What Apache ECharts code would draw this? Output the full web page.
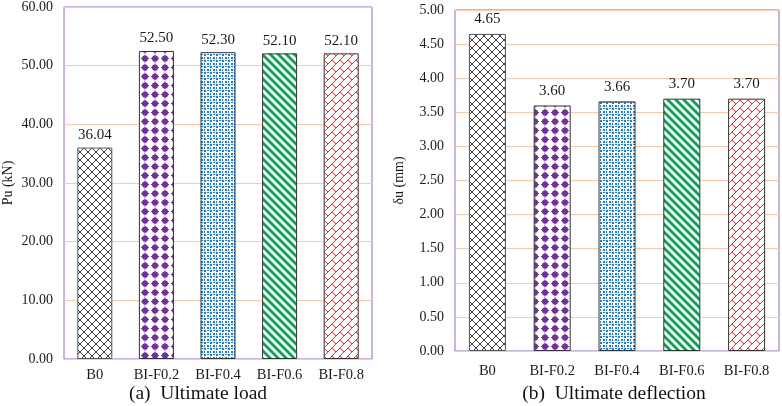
<!DOCTYPE html>
<html>
<head>
<meta charset="utf-8">
<script src="https://cdn.jsdelivr.net/npm/echarts@6/dist/echarts.min.js"></script>
<style>
html,body{margin:0;padding:0;background:#fff;}
#c{width:782px;height:406px;}
</style>
</head>
<body>
<div id="c"></div>
<script>
const categories = ['B0', 'BI-F0.2', 'BI-F0.4', 'BI-F0.6', 'BI-F0.8'];
const loadValues = [36.04, 52.50, 52.30, 52.10, 52.10];
const deflectionValues = [4.65, 3.60, 3.66, 3.70, 3.70];
const loadAxis = { min: 0, max: 60, interval: 10, name: 'Pu (kN)' };
const deflAxis = { min: 0, max: 5, interval: 0.5, name: 'δu (mm)' };
const captions = ['(a)  Ultimate load', '(b)  Ultimate deflection'];

const FONT = '"Liberation Serif", "Times New Roman", serif';

function makeTile(w, h, draw) {
  const c = document.createElement('canvas');
  c.width = w; c.height = h;
  const g = c.getContext('2d');
  g.fillStyle = '#ffffff';
  g.fillRect(0, 0, w, h);
  draw(g, w, h);
  return { image: c, repeat: 'repeat' };
}

// crosshatch (B0)
const patCross = makeTile(8, 8, (g) => {
  g.strokeStyle = '#3a3a3a'; g.lineWidth = 1;
  g.beginPath();
  g.moveTo(0, 0); g.lineTo(8, 8);
  g.moveTo(8, 0); g.lineTo(0, 8);
  g.stroke();
});
// purple dots
const patDots = makeTile(10, 9, (g) => {
  g.fillStyle = '#7030A0';
  g.beginPath(); g.arc(5, 4.5, 3.1, 0, Math.PI * 2); g.fill();
  g.fillRect(4.5, 0.5, 1, 8);
  g.fillRect(1, 4, 8, 1);
});
// blue small dots
const patSmall = makeTile(6, 6, (g) => {
  g.fillStyle = '#1F7FD0';
  g.fillRect(0, 0, 2, 2);
  g.fillRect(3, 3, 2, 2);
  g.fillRect(3, 0, 2, 1);
  g.fillRect(0, 3, 1, 2);
});
// green diagonal stripes "\"
const patStripe = makeTile(8, 8, (g) => {
  g.strokeStyle = '#00A550'; g.lineWidth = 2.8;
  g.beginPath();
  g.moveTo(-8, 0); g.lineTo(8, 16);
  g.moveTo(0, 0); g.lineTo(8, 8);
  g.moveTo(0, -8); g.lineTo(16, 8);
  g.stroke();
});
// red diagonal brick
const patBrick = makeTile(8, 8, (g) => {
  g.strokeStyle = '#FF3030'; g.lineWidth = 1;
  g.beginPath();
  g.moveTo(0, 8); g.lineTo(8, 0);
  g.moveTo(-1, 9); g.lineTo(9, -1);
  g.moveTo(4, 4); g.lineTo(8, 8);
  g.stroke();
});
const patterns = [patCross, patDots, patSmall, patStripe, patBrick];
const borders = ['#555555', '#333333', '#333333', '#333333', '#333333'];

function barData(vals) {
  return vals.map((v, i) => ({
    value: v,
    itemStyle: { color: patterns[i], borderColor: borders[i], borderWidth: 1 }
  }));
}

const gridLine = { show: true, lineStyle: { color: '#F8CBAD', width: 1 } };

const chart = echarts.init(document.getElementById('c'), null, { renderer: 'canvas' });
chart.setOption({
  animation: false,
  grid: [
    { left: 58, top: 4, width: 314, height: 355, show: true, borderColor: '#9966CC', borderWidth: 1, backgroundColor: 'transparent' },
    { left: 455, top: 10, width: 324, height: 341, show: true, borderColor: '#9966CC', borderWidth: 1, backgroundColor: 'transparent' }
  ],
  xAxis: [0, 1].map(i => ({
    type: 'category', gridIndex: i, data: categories,
    axisLine: { show: false }, axisTick: { show: false },
    axisLabel: { fontFamily: FONT, fontSize: 14.5, color: '#1a1a1a', margin: i === 0 ? 9 : 13 }
  })),
  yAxis: [loadAxis, deflAxis].map((a, i) => ({
    type: 'value', gridIndex: i, min: a.min, max: a.max, interval: a.interval,
    name: a.name, nameLocation: 'middle', nameRotate: 90, nameGap: 49,
    nameTextStyle: { fontFamily: FONT, fontSize: 14, color: '#1a1a1a' },
    axisLine: { show: false }, axisTick: { show: false },
    splitLine: gridLine,
    axisLabel: { fontFamily: FONT, fontSize: 14, color: '#1a1a1a', margin: 11,
      formatter: v => v.toFixed(2) }
  })),
  series: [
    { type: 'bar', xAxisIndex: 0, yAxisIndex: 0, barWidth: 35, data: barData(loadValues),
      label: { show: true, position: 'top', distance: 5, fontFamily: FONT, fontSize: 15, color: '#1a1a1a',
        formatter: p => p.value.toFixed(2) } },
    { type: 'bar', xAxisIndex: 1, yAxisIndex: 1, barWidth: 37, data: barData(deflectionValues),
      label: { show: true, position: 'top', distance: 7, fontFamily: FONT, fontSize: 15, color: '#1a1a1a',
        formatter: p => p.value.toFixed(2) } }
  ],
  graphic: [
    { type: 'text', x: 198, y: 394, style: { text: captions[0], font: '19.5px ' + FONT, fill: '#111', align: 'center', verticalAlign: 'middle' } },
    { type: 'text', x: 614, y: 394, style: { text: captions[1], font: '19.5px ' + FONT, fill: '#111', align: 'center', verticalAlign: 'middle' } }
  ]
});
</script>
</body>
</html>
